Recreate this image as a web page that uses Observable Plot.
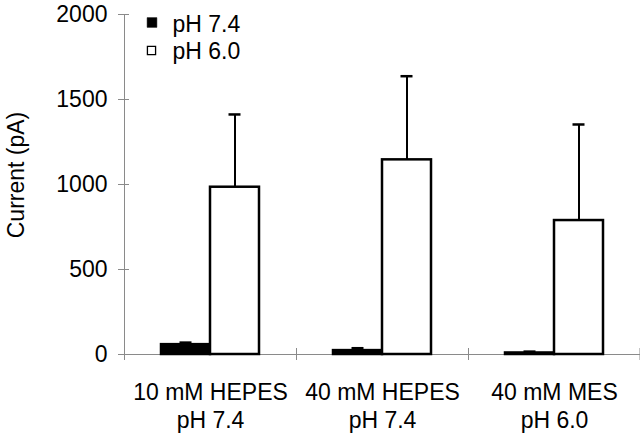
<!DOCTYPE html>
<html><head><meta charset="utf-8">
<script src="https://cdn.jsdelivr.net/npm/d3@7"></script>
<script src="https://cdn.jsdelivr.net/npm/@observablehq/plot@0.6"></script>
<style>
body{margin:0;background:#fff;}
#chart svg{font-family:"Liberation Sans",Arial,Helvetica,sans-serif;}
</style></head><body><div id="chart"></div>
<script>
// ---- data ----
const groups = ["10 mM HEPES\npH 7.4", "40 mM HEPES\npH 7.4", "40 mM MES\npH 6.0"];
const series = ["pH 7.4", "pH 6.0"];
const means74 = [58, 23, 9];
const means60 = [984, 1145, 788];
const errTop74 = [70, 37, 17];
const errTop60 = [1412, 1637, 1353];
const yTicks = [0, 500, 1000, 1500, 2000];
const yTitle = "Current (pA)";

const d74 = groups.map((g, i) => ({group: g, series: series[0], value: means74[i], top: errTop74[i]}));
const d60 = groups.map((g, i) => ({group: g, series: series[1], value: means60[i], top: errTop60[i]}));

// ---- layout (pixels) ----
const W = 640, H = 433, ML = 124, MR = 0, MT = 14, MB = 79;
const BAND = (W - ML - MR) / groups.length;
const BARW = 49;
const PAD = (BAND - 2 * BARW) / 2;
const CAP = 12;
const FS = 23;
const axisGrey = "#8a8a8a";

const capInsets = (center) => ({insetLeft: center - CAP / 2, insetRight: BAND - center - CAP / 2});

const plot = Plot.plot({
  width: W, height: H,
  marginLeft: ML, marginRight: MR, marginTop: MT, marginBottom: MB,
  style: {background: "white", color: "black", fontSize: FS + "px", fontFamily: "'Liberation Sans', Arial, sans-serif", overflow: "visible"},
  x: {domain: groups, padding: 0, axis: null},
  y: {domain: [0, 2000], axis: null},
  marks: [
    // y axis line & crossing ticks
    Plot.frame({anchor: "left", stroke: axisGrey, strokeWidth: 1}),
    Plot.ruleY(yTicks, {y: d => d, stroke: axisGrey, strokeWidth: 1, insetLeft: -6, insetRight: W - ML - MR - 5}),
    Plot.axisY({ticks: yTicks, tickSize: 0, tickPadding: 17, fontSize: FS, tickFormat: d3.format("d"), label: null}),
    // x axis line & boundary ticks
    Plot.ruleY([0], {stroke: axisGrey, strokeWidth: 1}),
    Plot.ruleX(groups, {x: d => d, dx: -BAND / 2, y1: 0, y2: 0, insetTop: -6, insetBottom: -6, stroke: axisGrey}),
    Plot.ruleX([groups[groups.length - 1]], {x: d => d, dx: BAND / 2 - 0.5, y1: 0, y2: 0, insetTop: -6, insetBottom: -6, stroke: axisGrey}),
    // error bars
    Plot.ruleX(d74, {x: "group", y1: "value", y2: "top", dx: -BARW / 2, stroke: "black", strokeWidth: 2}),
    Plot.tickY(d74, {x: "group", y: "top", ...capInsets(PAD + BARW / 2), stroke: "black", strokeWidth: 2.5}),
    Plot.ruleX(d60, {x: "group", y1: "value", y2: "top", dx: BARW / 2, stroke: "black", strokeWidth: 2}),
    Plot.tickY(d60, {x: "group", y: "top", ...capInsets(PAD + 1.5 * BARW), stroke: "black", strokeWidth: 2.5}),
    // bars
    Plot.barY(d74, {x: "group", y: "value", insetLeft: PAD, insetRight: PAD + BARW, fill: "black", stroke: "black", strokeWidth: 2.5}),
    Plot.barY(d60, {x: "group", y: "value", insetLeft: PAD + BARW, insetRight: PAD, fill: "white", stroke: "black", strokeWidth: 2.5}),
    // category labels
    Plot.text(groups, {x: d => d, text: d => d, frameAnchor: "bottom", lineAnchor: "top", dy: 26, lineHeight: 1.2, fontSize: FS, fill: "black"}),
    // legend
    Plot.dot([series[0]], {x: null, y: null, frameAnchor: "top-left", dx: 27.5, dy: 8, symbol: "square", r: 5.5, fill: "black", stroke: "black", strokeWidth: 0.5}),
    Plot.dot([series[1]], {x: null, y: null, frameAnchor: "top-left", dx: 27, dy: 36, symbol: "square", r: 4.6, fill: "white", stroke: "black", strokeWidth: 1.3}),
    Plot.text([series[0]], {frameAnchor: "top-left", text: d => d, dx: 48, dy: 10, textAnchor: "start", lineAnchor: "middle", fontSize: FS, fill: "black"}),
    Plot.text([series[1]], {frameAnchor: "top-left", text: d => d, dx: 48, dy: 37.5, textAnchor: "start", lineAnchor: "middle", fontSize: FS, fill: "black"})
  ]
});
// y axis title (rotated text)
d3.select(plot).append("text")
  .attr("transform", "translate(16,175) rotate(-90)")
  .attr("text-anchor", "middle")
  .attr("dy", "0.35em")
  .attr("fill", "black")
  .style("font-size", FS + "px")
  .style("font-family", "'Liberation Sans', Arial, sans-serif")
  .text(yTitle);
document.getElementById("chart").appendChild(plot);
</script></body></html>
